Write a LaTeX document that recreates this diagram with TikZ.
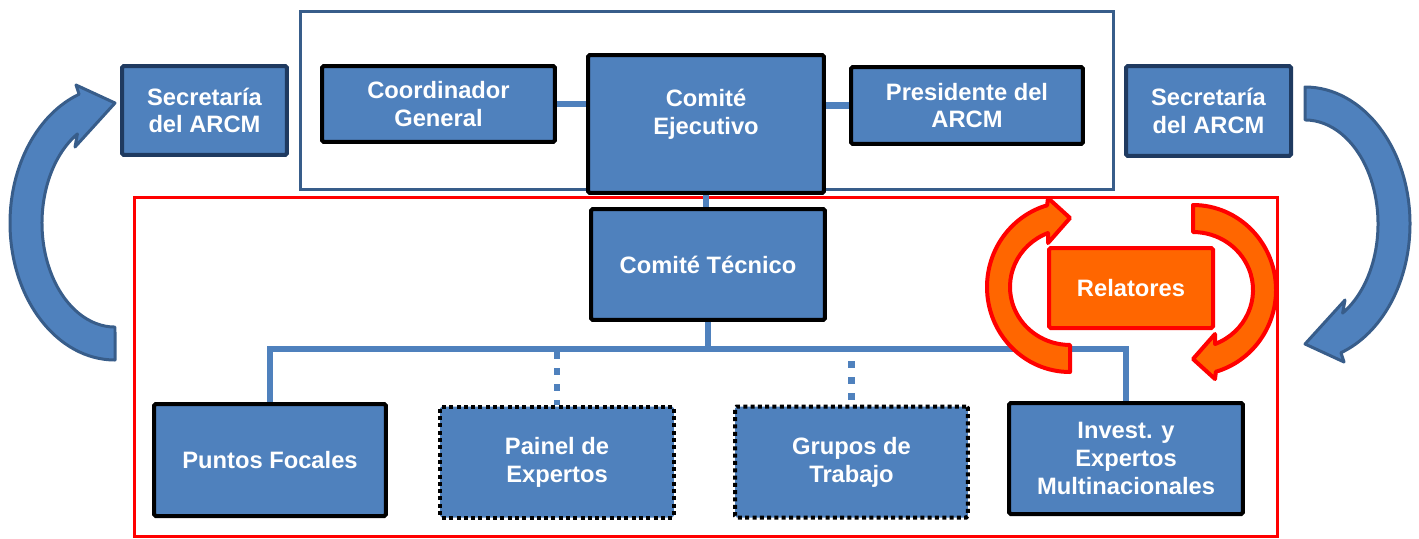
\documentclass[tikz,border=0pt]{standalone}
\usepackage{fontspec}
\setmainfont{Liberation Sans}
\usetikzlibrary{backgrounds}
\definecolor{boxblue}{HTML}{4F81BD}
\definecolor{darkblue}{HTML}{385D8A}
\definecolor{navy}{HTML}{1F3A60}
\definecolor{relorange}{HTML}{FF6600}
\tikzset {
    every node/.style={text=white, align=center, inner sep=0pt,
        font=\bfseries\fontsize{13.5}{15.8}\selectfont},
    unit/.style={draw=black, line width=0.08cm, fill=boxblue, rounded corners=1pt},
    secbox/.style={unit, draw=navy},
    openbox/.style={unit, dash pattern=on 0.08cm off 0.066cm},
    relbox/.style={unit, draw=red, fill=relorange},
    link/.style={draw=boxblue, line width=0.13cm},
    dotlink/.style={link, dash pattern=on 0.14cm off 0.18cm},
    frame/.style={line width=0.06cm},
    bluearrow/.style={fill=boxblue, draw=darkblue, line width=0.06cm, line join=round},
    ringarrow/.style={fill=relorange, draw=red, line width=0.08cm, line join=round},
    pics/bendarc/.style={code={
        \path[pic actions] (0,137) arc[start angle=90, end angle=250, x radius=105, y radius=137]
            -- (-39,-138) -- (0,-120) -- (-40,-76) -- (-37.6,-89.1)
            arc[start angle=239, end angle=90, x radius=73, y radius=104] -- cycle;
    }},
    pics/ringarc/.style={code={
        \path[pic actions] (0,85) arc[start angle=90, end angle=254, x radius=83, y radius=85]
            -- (-22,-89) -- (0,-69) -- (-22,-44) -- (-22,-54)
            arc[start angle=248.5, end angle=90, x radius=60, y radius=58] -- cycle;
    }}
}
\begin{document}
\begin{tikzpicture}[x=0.02cm, y=-0.02cm]
    \useasboundingbox (0,0) rectangle (1419,538);

    \node[secbox, minimum width=3.30cm, minimum height=1.78cm] (secl) at (204.5,110.5) {Secretaría\\del ARCM};
    \node[unit, minimum width=4.66cm, minimum height=1.52cm] (coord) at (438.5,104) {Coordinador\\General};
    \node[unit, minimum width=4.72cm, minimum height=2.76cm, text depth=0.5cm] (ejec) at (706,124) {Comité\\Ejecutivo};
    \node[unit, minimum width=4.64cm, minimum height=1.54cm] (pres) at (967,105.5) {Presidente del\\ARCM};
    \node[secbox, minimum width=3.30cm, minimum height=1.80cm] (secr) at (1208.5,111) {Secretaría\\del ARCM};

    \node[unit, minimum width=4.68cm, minimum height=2.22cm] (tecn) at (708,264.5) {Comité Técnico};
    \node[relbox, minimum width=3.28cm, minimum height=1.60cm] (rel) at (1131,288) {Relatores};

    \node[unit, minimum width=4.64cm, minimum height=2.24cm] (punt) at (270,460) {Puntos Focales};
    \node[openbox, minimum width=4.68cm, minimum height=2.22cm] (pain) at (557,462) {Painel de\\Expertos};
    \node[openbox, minimum width=4.66cm, minimum height=2.22cm] (grup) at (851.5,462) {Grupos de\\Trabajo};
    \node[unit, minimum width=4.68cm, minimum height=2.22cm] (inve) at (1126,458.5) {Invest. y\\Expertos\\Multinacionales};

    \coordinate (bus) at (708,349);
    \coordinate (paintop) at (557,352);
    \coordinate (gruptop) at (851.5,361);

    \begin{scope}[on background layer]
        \draw[frame, draw=darkblue] (300,11) rectangle (1113,189);
        \draw[frame, draw=red] (134,197) rectangle (1277,536);

        \draw[link] (coord.east) -- (coord.east -| ejec.west);
        \draw[link] (ejec.east |- pres.west) -- (pres.west);
        \draw[link] (ejec.south) -- (ejec.south |- tecn.north);
        \draw[link] (tecn.south) -- (bus);
        \draw[link] (punt.north) |- (bus) -| (inve.north);
        \draw[dotlink] (paintop) -- (pain.north);
        \draw[dotlink] (gruptop) -- (grup.north);
    \end{scope}

    \pic[bluearrow] at (115,223) {bendarc};
    \pic[bluearrow, rotate=180] at (1305,224) {bendarc};
    \pic[ringarrow] at (1070,287) {ringarc};
    \pic[ringarrow, rotate=180] at (1193,290) {ringarc};
\end{tikzpicture}
\end{document}
